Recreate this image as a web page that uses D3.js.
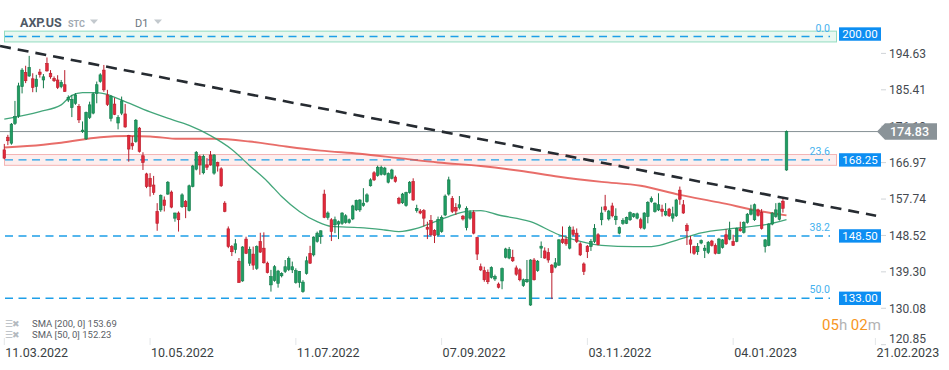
<!DOCTYPE html>
<html>
<head>
<meta charset="utf-8">
<script src="https://cdn.jsdelivr.net/npm/d3@7"></script>
<style>
  body { margin: 0; background: #fff; font-family: Roboto, "Noto Sans", sans-serif; }
</style>
</head>
<body>
<div id="chart"></div>
<script>
// daily bars, AXP.US D1, 11.03.2022 .. 27.01.2023  [open, high, low, close]
const candles = [
  [170.2,171.7,167.8,168.1],[173.4,174.0,171.4,172.5],[171.9,177.0,171.5,176.7],[176.9,182.6,176.5,178.6],[178.8,187.2,178.3,186.4],
  [186.2,190.9,184.5,190.4],[189.8,191.5,187.1,187.7],[188.9,194.0,188.7,191.1],[188.2,189.6,184.8,186.0],[186.2,189.2,184.8,188.1],
  [189.9,190.7,188.5,189.3],[187.9,189.4,185.8,188.7],[192.1,193.6,190.0,190.2],[189.6,190.4,188.2,188.7],[188.3,188.8,187.4,187.7],
  [187.9,189.1,185.6,186.0],[186.2,187.9,185.8,187.3],[186.7,190.4,184.9,185.0],[182.8,184.0,182.3,183.5],[180.9,184.1,178.5,183.0],
  [182.0,184.6,181.6,184.1],[181.2,181.8,177.0,177.8],[174.8,177.4,174.5,175.2],[173.0,179.9,172.7,179.7],[178.4,182.4,178.0,181.6],
  [179.5,184.7,179.2,184.4],[184.5,187.5,182.0,186.7],[187.5,189.6,187.2,189.2],[190.4,191.7,184.9,185.4],[184.1,185.4,181.3,181.7],
  [178.2,184.1,177.4,183.7],[181.8,183.4,179.0,179.2],[177.0,179.0,175.4,178.4],[179.5,183.7,179.0,182.6],[179.3,181.8,175.8,176.0],
  [173.8,174.0,167.2,170.4],[171.9,173.7,170.2,171.2],[172.3,178.0,172.0,177.7],[175.7,176.0,169.5,169.8],[168.7,169.6,165.1,167.0],
  [164.1,164.4,160.5,160.9],[163.0,164.3,158.4,160.9],[161.3,163.6,158.8,159.4],[154.6,156.7,149.7,151.6],[155.0,158.9,154.5,158.7],
  [157.5,158.4,154.6,156.1],[159.0,162.3,158.8,162.0],[159.5,159.9,155.4,155.7],[152.9,154.3,152.0,154.2],[154.2,154.6,149.5,152.5],
  [155.8,159.2,155.5,158.8],[157.1,157.5,152.9,155.8],[154.8,161.4,154.6,161.1],[160.9,166.4,160.7,166.1],[165.3,169.9,165.0,169.6],
  [168.5,168.9,163.9,166.4],[164.4,169.0,164.0,168.5],[166.4,168.1,165.1,165.8],[168.9,169.9,166.2,166.4],[164.3,169.1,163.9,168.9],
  [167.0,167.2,164.7,166.1],[165.4,165.8,160.8,161.1],[156.7,157.2,154.4,154.6],[150.2,150.8,145.3,145.7],[145.7,146.1,143.3,144.4],
  [145.0,147.6,144.0,146.4],[142.0,142.8,136.5,136.6],[137.0,145.8,136.8,145.6],[147.6,148.2,143.8,144.0],[141.5,145.7,140.8,145.0],
  [143.8,145.7,139.8,141.0],[140.2,146.0,139.8,145.7],[147.0,149.2,144.1,144.3],[145.3,149.3,141.4,141.6],[141.5,141.9,138.9,139.1],
  [136.0,139.8,134.3,138.1],[137.1,141.0,136.8,140.6],[136.4,139.8,135.3,139.5],[138.3,139.2,137.9,138.9],[139.4,142.3,139.0,140.6],
  [139.9,143.2,139.5,142.7],[139.8,141.9,139.0,140.6],[136.6,140.2,136.3,139.6],[136.6,139.5,135.3,139.4],[134.3,137.2,134.0,136.7],
  [138.9,143.2,138.6,142.1],[144.0,145.9,141.3,141.5],[143.6,148.3,143.2,148.1],[147.0,149.5,146.7,149.1],[148.2,149.8,146.4,149.7],
  [159.0,160.1,152.9,153.1],[153.1,154.6,152.5,154.2],[152.5,152.9,147.1,149.5],[151.2,153.3,149.1,152.5],[151.4,152.3,147.6,152.0],
  [151.6,154.4,151.2,154.2],[151.8,153.9,151.5,153.5],[151.8,152.8,151.5,152.5],[152.7,156.3,152.4,156.0],[155.0,157.6,154.7,157.4],
  [155.0,157.7,154.5,157.5],[156.1,160.5,155.8,156.7],[157.1,159.2,156.8,158.8],[161.1,163.0,160.9,162.6],[164.4,164.8,162.3,162.6],
  [163.7,166.2,163.4,165.8],[164.0,166.2,163.7,165.8],[164.0,165.9,163.7,165.6],[162.0,164.5,161.7,164.2],[163.0,165.4,162.7,165.1],
  [163.3,163.7,161.9,162.2],[157.9,158.3,156.4,156.7],[156.8,159.3,156.5,159.0],[156.1,159.6,155.8,159.4],[159.4,162.3,159.1,162.0],
  [162.2,163.0,157.3,157.5],[154.8,156.3,154.3,155.4],[154.7,155.2,153.9,154.2],[154.8,155.2,150.8,152.9],[150.6,152.0,147.6,150.1],
  [152.3,153.7,148.3,148.7],[149.8,150.1,146.6,148.5],[148.7,153.3,148.3,152.6],[149.5,153.6,149.2,153.1],[153.7,158.9,153.4,158.5],
  [159.0,163.4,158.6,162.6],[157.9,158.5,154.2,154.6],[155.6,156.7,153.7,154.7],[155.6,158.5,155.1,156.3],[153.4,153.7,152.3,152.7],
  [150.5,155.9,149.8,155.4],[152.9,154.9,152.5,154.3],[154.3,154.9,148.8,149.1],[148.0,148.2,142.3,143.8],[140.6,141.4,139.5,139.8],
  [139.6,140.6,136.8,137.3],[139.2,139.9,136.2,136.8],[137.9,140.7,137.6,140.4],[137.5,138.6,137.0,138.1],[136.2,136.6,135.1,135.4],
  [137.0,140.4,134.9,140.1],[143.0,145.4,142.7,145.1],[142.8,145.6,142.5,145.0],[143.0,144.9,141.8,142.1],[140.3,140.9,138.3,138.7],
  [139.8,140.2,136.9,137.3],[135.8,137.6,135.5,137.3],[136.8,142.3,136.5,137.4],[130.9,142.5,130.7,142.3],[142.3,142.8,137.1,137.3],
  [139.6,142.3,139.3,142.0],[145.3,147.0,142.8,145.8],[144.6,145.5,142.6,142.8],[144.2,145.3,141.6,142.3],[141.0,141.3,132.4,139.1],
  [140.5,142.8,140.2,141.6],[141.0,147.6,140.8,147.4],[147.6,150.8,146.4,146.7],[147.6,148.3,145.9,146.4],[145.3,151.0,145.0,150.6],
  [149.9,150.8,148.4,148.8],[149.1,150.3,146.6,147.0],[146.4,146.8,143.3,143.6],[141.3,141.7,138.5,139.4],[145.8,146.1,142.8,144.4],
  [145.7,147.6,144.6,147.0],[147.0,151.4,146.6,150.3],[148.7,149.1,146.0,146.2],[152.5,155.8,151.1,154.2],[155.8,158.8,154.5,155.0],
  [152.7,155.0,152.3,154.7],[156.0,156.8,153.1,153.5],[152.5,155.4,151.2,153.4],[149.1,150.8,148.8,150.5],[151.6,152.9,151.2,152.3],
  [151.6,153.3,151.4,153.1],[152.5,154.6,152.2,154.3],[153.3,154.2,153.0,154.0],[152.9,154.3,152.6,154.0],[152.5,153.0,150.1,150.5],
  [150.3,154.4,150.0,154.2],[153.3,157.2,151.6,156.9],[157.1,158.4,156.8,157.9],[154.6,156.9,154.3,156.7],[155.0,159.2,154.7,156.3],
  [155.2,156.3,153.3,154.6],[153.7,156.7,153.4,154.6],[155.2,155.5,153.2,153.5],[152.9,155.8,152.0,154.0],[153.5,157.8,153.2,157.5],
  [160.0,160.9,156.3,157.7],[156.3,157.5,154.0,154.2],[151.1,151.6,146.1,149.7],[147.4,148.4,144.0,146.3],[145.7,145.9,143.6,144.0],
  [144.4,146.6,143.6,145.7],[146.6,147.5,146.3,147.2],[144.7,146.1,142.8,145.3],[144.2,147.1,143.8,146.8],[147.1,147.4,145.7,146.0],
  [146.0,146.5,143.7,144.0],[144.0,147.9,143.8,147.6],[145.5,147.6,145.2,147.4],[148.7,150.1,146.1,146.4],[147.6,152.0,147.3,149.9],
  [147.0,148.7,145.9,146.0],[147.0,150.5,146.8,150.3],[150.2,152.0,149.5,149.7],[149.3,152.1,149.0,151.8],[151.8,154.2,151.5,153.9],
  [153.9,156.3,153.6,155.0],[152.5,156.6,152.2,156.3],[155.0,155.3,153.3,153.6],[154.3,155.2,150.0,150.3],[145.7,147.6,144.2,147.4],
  [146.0,151.6,145.8,151.4],[151.4,154.4,151.1,154.2],[153.3,156.7,153.0,155.0],[152.6,156.8,152.3,156.7],[157.2,157.9,154.3,155.4],
  [165.1,175.1,164.9,174.83]
]

// moving averages  [bar index, value]
const sma200 = [[0,170.8],[11,171.5],[16,172.0],[27,173.4],[35,173.7],[41,173.6],[49,173.0],[59,173.0],[69,172.3],[78,171.2],
  [89,170.0],[100,169.2],[111,168.1],[122,167.0],[134,166.1],[145,164.9],[156,163.4],[168,162.1],[179,161.1],[190,158.8],
  [201,156.9],[213,154.6],[220,153.6]]
const sma50 = [[0,178.0],[10,179.9],[16,181.6],[19,184.0],[22,184.7],[26,184.7],[29,184.2],[33,182.8],[41,179.8],[47,177.9],
  [52,176.4],[58,173.8],[64,170.3],[69,166.2],[74,162.2],[78,158.4],[83,154.6],[88,152.0],[92,150.8],[100,150.5],[107,149.9],
  [111,149.5],[116,150.3],[120,151.6],[125,153.3],[130,154.6],[134,154.8],[139,153.7],[148,152.0],[156,148.7],[162,147.0],
  [168,146.0],[177,145.7],[182,145.7],[190,147.6],[196,149.2],[205,150.3],[215,151.4],[220,152.5]]

const priceTicks = [194.63, 185.41, 176.19, 166.97, 157.74, 148.52, 139.30, 130.08]
const dateTicks = [[0,'11.03.2022'],[41,'10.05.2022'],[82,'11.07.2022'],[123,'07.09.2022'],[164,'03.11.2022'],[205,'04.01.2023'],[245,'21.02.2023']]
const fibPct = ['0.0', '23.6', '38.2', '50.0']
const fibPrices = [200.00, 168.25, 148.50, 133.00]
// where the retracement lines sit on the price scale, as drawn in the chart
const fibLineAt = [198.9, 167.65, 148.4, 132.6]
const trendLine = [[-1.2, 196.5], [245.2, 153.5]]
const lastPrice = 174.83
const smaLegend = ['SMA [200,  0] 153.69', 'SMA [50,  0] 152.23']

function draw_chart() {
    const width = 949, height = 370
    const plotRight = 880

    const svg = d3.select('#chart').append('svg')
        .attr('width', width).attr('height', height)
        .style('font-family', 'Roboto, "Noto Sans", sans-serif')

    const x = d3.scaleLinear().domain([-1.21, 246.3]).range([0, plotRight])
    const y = d3.scaleLinear().domain([120.85, 194.63]).range([344.7, 53.4])

    // header
    const head = svg.append('g')
    head.append('text').attr('x', 20).attr('y', 27).text('AXP.US')
        .attr('font-size', 12.5).attr('font-weight', 700).attr('fill', '#4f5965')
    head.append('text').attr('x', 68).attr('y', 27).text('STC')
        .attr('font-size', 9).attr('font-weight', 700).attr('fill', '#a2aab2')
    head.append('text').attr('x', 135).attr('y', 27).text('D1')
        .attr('font-size', 11).attr('fill', '#6b7580')
    head.selectAll('path.tri').data([90, 154]).join('path').attr('class', 'tri')
        .attr('d', d => `M${d},19.5 L${d + 8},19.5 L${d + 4},24 Z`).attr('fill', '#c3c9ce')

    // fibonacci zones
    const bandCols = [{fill: '#e9f8f1', stroke: '#93dcc0'}, {fill: '#fdeeee', stroke: '#f3b4b4'}]
    svg.selectAll('rect.band').data([0, 1]).join('rect').attr('class', 'band')
        .attr('x', 4.5).attr('width', 832)
        .attr('y', i => y(fibLineAt[i]) - 5.4).attr('height', 10.8)
        .attr('fill', i => bandCols[i].fill).attr('stroke', i => bandCols[i].stroke).attr('stroke-width', 1)

    svg.selectAll('line.fib').data(fibLineAt).join('line').attr('class', 'fib')
        .attr('x1', 5).attr('x2', 830)
        .attr('y1', d => y(d)).attr('y2', d => y(d))
        .attr('stroke', '#1e9fe8').attr('stroke-width', 1.4).attr('stroke-dasharray', '8,5.5')

    svg.selectAll('text.fibpct').data(fibPct).join('text').attr('class', 'fibpct')
        .attr('x', 830).attr('y', (d, i) => y(fibLineAt[i]) - 5)
        .attr('text-anchor', 'end').attr('font-size', 10.5).attr('fill', '#45b1ee')
        .text(d => d)

    // last price line
    svg.append('line').attr('x1', 0).attr('x2', plotRight)
        .attr('y1', y(lastPrice)).attr('y2', y(lastPrice))
        .attr('stroke', '#869095').attr('stroke-width', 1)

    // moving averages
    const line = d3.line().x(d => x(d[0])).y(d => y(d[1])).curve(d3.curveMonotoneX)
    svg.append('path').datum(sma200).attr('d', line)
        .attr('fill', 'none').attr('stroke', '#e4544f').attr('stroke-width', 1.9).attr('stroke-opacity', 0.85)
    svg.append('path').datum(sma50).attr('d', line)
        .attr('fill', 'none').attr('stroke', '#2f9c6c').attr('stroke-width', 1.3).attr('stroke-opacity', 0.9)

    // candles
    const up = {fill: '#1f9d62', stroke: '#157a4b'}
    const down = {fill: '#e2293a', stroke: '#b91e2d'}
    const bars = svg.append('g').selectAll('g').data(candles).join('g')
    bars.append('line')
        .attr('x1', (d, i) => x(i)).attr('x2', (d, i) => x(i))
        .attr('y1', d => y(d[1])).attr('y2', d => y(d[2]))
        .attr('stroke', d => d[3] >= d[0] ? up.stroke : down.stroke).attr('stroke-width', 1)
    bars.append('rect')
        .attr('x', (d, i) => x(i) - 1.3).attr('width', 2.6)
        .attr('y', d => y(Math.max(d[0], d[3])))
        .attr('height', d => Math.max(1, Math.abs(y(d[0]) - y(d[3]))))
        .attr('fill', d => d[3] >= d[0] ? up.fill : down.fill)
        .attr('stroke', d => d[3] >= d[0] ? up.stroke : down.stroke).attr('stroke-width', 0.6)

    // trend line
    svg.append('path').datum(trendLine).attr('d', d3.line().x(d => x(d[0])).y(d => y(d[1])))
        .attr('fill', 'none').attr('stroke', '#262b31').attr('stroke-width', 2.6).attr('stroke-dasharray', '11,7')

    // right axis
    const axis = svg.append('g')
    axis.selectAll('line').data(priceTicks.concat([120.85])).join('line')
        .attr('x1', 881).attr('x2', 886).attr('y1', d => y(d)).attr('y2', d => y(d))
        .attr('stroke', '#d0d4d8')
    axis.selectAll('text').data(priceTicks).join('text')
        .attr('x', 889).attr('y', d => y(d)).attr('dy', '0.36em')
        .attr('font-size', 12).attr('fill', '#454a50')
        .text(d => d.toFixed(2))
    axis.append('text').attr('x', 889).attr('y', 343).text('120.85')
        .attr('font-size', 12).attr('fill', '#454a50')

    // fib price boxes
    const boxes = svg.selectAll('g.fibbox').data(fibPrices).join('g').attr('class', 'fibbox')
        .attr('transform', (d, i) => `translate(839,${y(fibLineAt[i]) - (i === 0 ? 2.5 : 0)})`)
    boxes.append('rect').attr('x', 0).attr('y', -6.7).attr('width', 42).attr('height', 13.4).attr('fill', '#0d8ef2')
    boxes.append('text').attr('x', 21).attr('dy', '0.36em').attr('text-anchor', 'middle')
        .attr('font-size', 11.5).attr('fill', '#fff').text(d => d.toFixed(2))

    // last price tag
    const yl = y(lastPrice)
    svg.append('path')
        .attr('d', `M877,${yl} L885,${yl - 8.3} L937,${yl - 8.3} L937,${yl + 8.3} L885,${yl + 8.3} Z`)
        .attr('fill', '#8a9398')
    svg.append('text').attr('x', 890).attr('y', yl).attr('dy', '0.37em')
        .attr('font-size', 12.5).attr('font-weight', 500).attr('fill', '#fff').text(lastPrice.toFixed(2))

    // date axis
    svg.selectAll('line.dtick').data(dateTicks).join('line').attr('class', 'dtick')
        .attr('x1', d => x(d[0])).attr('x2', d => x(d[0])).attr('y1', 338).attr('y2', 345)
        .attr('stroke', '#e3e6e8')
    svg.selectAll('text.date').data(dateTicks).join('text').attr('class', 'date')
        .attr('x', d => x(d[0]) + 1).attr('y', 356.5)
        .attr('font-size', 12.5).attr('fill', '#3a3f44').text(d => d[1])

    // legend
    const leg = svg.selectAll('g.leg').data(smaLegend).join('g').attr('class', 'leg')
        .attr('transform', (d, i) => `translate(0,${326.5 + i * 11})`)
    leg.append('text').attr('x', 5).attr('y', 0).attr('font-size', 9).attr('fill', '#b4bac0').text('☰')
    leg.append('text').attr('x', 12).attr('y', 0).attr('font-size', 9).attr('fill', '#b4bac0').text('✖')
    leg.append('text').attr('x', 32).attr('y', 0).attr('font-size', 9.5).attr('fill', '#5a6066').text(d => d)

    // countdown
    const cd = svg.append('text').attr('x', 822).attr('y', 330).attr('font-size', 15)
    cd.append('tspan').attr('fill', '#f7961e').text('05')
    cd.append('tspan').attr('fill', '#b3b3b3').text('h ')
    cd.append('tspan').attr('fill', '#f7961e').text('02')
    cd.append('tspan').attr('fill', '#b3b3b3').text('m')
}

draw_chart()
</script>
</body>
</html>
